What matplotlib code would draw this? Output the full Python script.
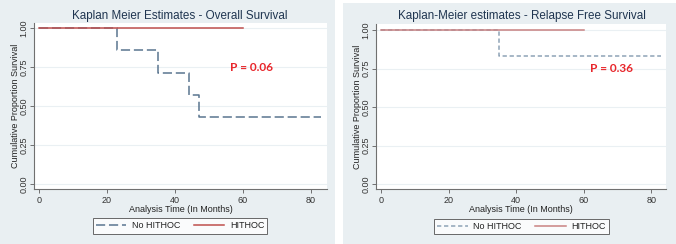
import matplotlib
matplotlib.use("Agg")
import matplotlib.pyplot as plt
from matplotlib.patches import Rectangle

# ---- data ----
os_no_t = [0, 23, 35, 44, 47, 83]
os_no_s = [1.0, 0.857, 0.714, 0.571, 0.429, 0.429]
os_hit_t = [0, 60]
os_hit_s = [1.0, 1.0]
rfs_no_t = [0, 35, 83]
rfs_no_s = [1.0, 0.833, 0.833]
rfs_hit_t = [0, 60]
rfs_hit_s = [1.0, 1.0]
xticks = [0, 20, 40, 60, 80]
yticks = [0.00, 0.25, 0.50, 0.75, 1.00]
titles = ["Kaplan Meier Estimates - Overall Survival",
          "Kaplan-Meier estimates - Relapse Free Survival"]
pvals = ["P = 0.06", "P = 0.36"]
labels = ["No HITHOC", "HITHOC"]

W, H = 676, 244
plt.rcParams['font.family'] = ['Liberation Sans', 'DejaVu Sans']
fig = plt.figure(figsize=(W / 100, H / 100), dpi=100)
fig.patch.set_facecolor('white')

BG = '#e9eff2'
fig.patches.append(Rectangle((0, 0), 335 / W, 1, transform=fig.transFigure,
                             facecolor=BG, edgecolor='none', zorder=-5))
fig.patches.append(Rectangle((343 / W, 0), 1 - 343 / W, 1 - 3 / H, transform=fig.transFigure,
                             facecolor=BG, edgecolor='none', zorder=-5))

def px_axes(x0, y0, x1, y1):
    return [x0 / W, 1 - y1 / H, (x1 - x0) / W, (y1 - y0) / H]

panels = [
    dict(rect=(34, 23, 327, 189), xlim=(-1.47, 84.7), ylim=(-0.032, 1.032),
         no=(os_no_t, os_no_s), hit=(os_hit_t, os_hit_s),
         ncol='#5a7590', hcol='#bf4f4d', dashes=(6, 2.5),
         ptxt=(56.2, 0.744), title=(179.5, 15.5), leg=(180, 226), ylab_x=15),
    dict(rect=(376, 24, 666, 189), xlim=(-1.48, 84.4), ylim=(-0.032, 1.039),
         no=(rfs_no_t, rfs_no_s), hit=(rfs_hit_t, rfs_hit_s),
         ncol='#8ea3b6', hcol='#c98282', dashes=(2.8, 1.8),
         ptxt=(61.9, 0.753), title=(521.5, 16.5), leg=(521.5, 226.5), ylab_x=358),
]

for i, p in enumerate(panels):
    ax = fig.add_axes(px_axes(*p['rect']))
    ax.set_zorder(2)
    ax.set_facecolor('white')
    ax.set_xlim(*p['xlim'])
    ax.set_ylim(*p['ylim'])
    for s in ['top', 'right']:
        ax.spines[s].set_visible(False)
    for s in ['left', 'bottom']:
        ax.spines[s].set_color('#707070')
        ax.spines[s].set_linewidth(0.8)
    ax.set_xticks(xticks)
    ax.set_yticks(yticks)
    ax.set_yticklabels([f"{v:.2f}" for v in yticks], rotation=90, va='center')
    ax.tick_params(axis='both', labelsize=6.5, colors='#707070', labelcolor='#333333',
                   length=3, width=0.7, pad=2)
    ax.tick_params(axis='y', pad=1)
    ax.grid(axis='y', color='#eaf0f3', linewidth=0.8)
    ax.set_axisbelow(True)
    ln1, = ax.plot(p['no'][0], p['no'][1], drawstyle='steps-post', color=p['ncol'],
                   linewidth=1.1, linestyle=(0, p['dashes']), label=labels[0])
    ln2, = ax.plot(p['hit'][0], p['hit'][1], drawstyle='steps-post', color=p['hcol'],
                   linewidth=1.1, label=labels[1])
    ax.text(p['ptxt'][0], p['ptxt'][1], pvals[i], color='#e8262b', fontsize=8.5,
            fontweight='bold', family=['Lato', 'DejaVu Sans'], ha='left', va='center')
    ax.set_xlabel("Analysis Time (In Months)", fontsize=6.5, color='#222222', labelpad=0)
    ax.set_ylabel("Cumulative Proportion Survival", fontsize=6.5, color='#222222')
    x0 = p['rect'][0]
    wpx = p['rect'][2] - p['rect'][0]
    ax.yaxis.set_label_coords((p['ylab_x'] - x0) / wpx, 0.5)
    ax.yaxis.label.set_va('center')
    fig.text(p['title'][0] / W, 1 - p['title'][1] / H, titles[i], fontsize=8.4,
             color='#1f3550', ha='center', va='center')
    leg = fig.legend(handles=[ln1, ln2], loc='center',
                     bbox_to_anchor=(p['leg'][0] / W, 1 - p['leg'][1] / H),
                     ncol=2, fontsize=6.5, frameon=True, fancybox=False,
                     edgecolor='#444444', facecolor='white', handlelength=3.4,
                     columnspacing=1.5, handletextpad=0.6, borderpad=0.35,
                     borderaxespad=0)
    leg.get_frame().set_linewidth(0.7)
    for t in leg.get_texts():
        t.set_color('#222222')

fig.savefig('out.png', dpi=100, facecolor='white')
